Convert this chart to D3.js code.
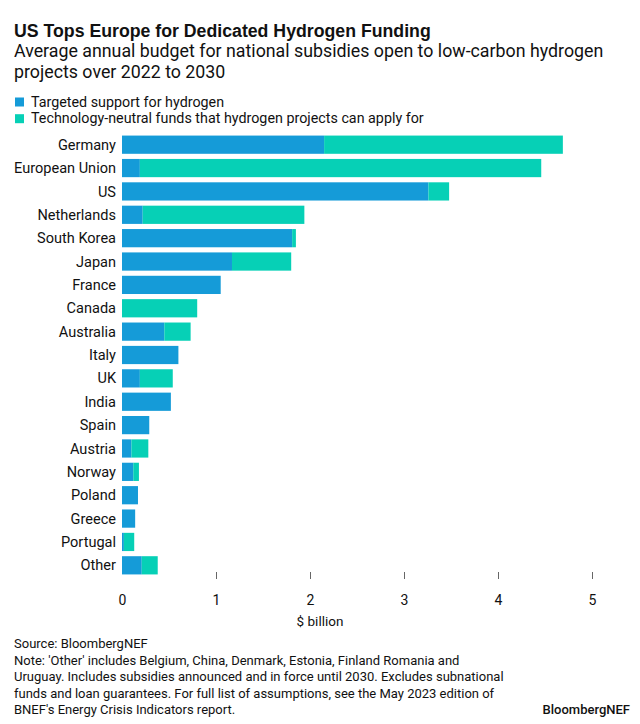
<!DOCTYPE html>
<html><head><meta charset="utf-8">
<script src="https://cdn.jsdelivr.net/npm/d3@7"></script>
<style>
html,body{margin:0;padding:0;background:#fff;}
svg{display:block;font-family:Roboto,"Noto Sans",sans-serif;}
</style></head>
<body>
<svg id="chart" width="640" height="724"></svg>
<script>
const categories = ["Germany","European Union","US","Netherlands","South Korea","Japan","France","Canada","Australia","Italy","UK","India","Spain","Austria","Norway","Poland","Greece","Portugal","Other"];
const targeted = [2.15,0.19,3.26,0.22,1.81,1.17,1.05,0,0.45,0.60,0.19,0.52,0.29,0.10,0.12,0.17,0.14,0.02,0.21];
const neutral  = [2.54,4.27,0.22,1.72,0.04,0.63,0,0.80,0.28,0,0.35,0,0,0.18,0.06,0,0,0.11,0.17];
const seriesNames = ["Targeted support for hydrogen","Technology-neutral funds that hydrogen projects can apply for"];
const seriesKeys = ["targeted","neutral"];
const colors = ["#159bd8","#06d0b6"];
const xTicks = [0,1,2,3,4,5];

const rows = categories.map((c,i)=>({cat:c,targeted:targeted[i],neutral:neutral[i]}));
const svg = d3.select("#chart");
const ink = "#111";

// shrink/grow font so a line spans a target width
function fit(sel, width){
  const w = sel.node().getComputedTextLength();
  const fs = parseFloat(sel.attr("font-size"));
  sel.attr("font-size", (fs*width/w).toFixed(2));
  return sel;
}

// Title & subtitle
const title = svg.append("text").attr("x",14).attr("y",36.7).attr("font-size",17).attr("font-weight",700)
  .attr("font-family","'Liberation Sans',Arial,sans-serif")
  .attr("fill",ink).text("US Tops Europe for Dedicated Hydrogen Funding");
fit(title, 417);
const sub = ["Average annual budget for national subsidies open to low-carbon hydrogen","projects over 2022 to 2030"];
const subEls = sub.map((s,i)=>svg.append("text").attr("x",14).attr("y",56.7+i*21.6).attr("font-size",16.5)
  .attr("fill",ink).text(s));
fit(subEls[0], 590);
subEls[1].attr("font-size", subEls[0].attr("font-size"));

// Legend
const legEls = seriesNames.map((s,i)=>{
  const g = svg.append("g").attr("transform",`translate(15,${97.5+i*16.7})`);
  g.append("rect").attr("width",9).attr("height",9).attr("fill",colors[i]);
  return g.append("text").attr("x",16).attr("y",9.2).attr("font-size",14).attr("fill",ink).text(s);
});
fit(legEls[1], 393);
legEls[0].attr("font-size", legEls[1].attr("font-size"));

// Scales
const x = d3.scaleLinear().domain([0,5]).range([122,592]);
const y = d3.scaleBand().domain(categories).range([133,577]).paddingInner(0.22).paddingOuter(0.11);

const stack = d3.stack().keys(seriesKeys)(rows);
svg.append("g").selectAll("g").data(stack).join("g").attr("fill",(d,i)=>colors[i])
  .selectAll("rect").data(d=>d).join("rect")
  .attr("x",d=>x(d[0])).attr("width",d=>Math.max(0,x(d[1])-x(d[0])))
  .attr("y",d=>y(d.data.cat)).attr("height",y.bandwidth());

// Category labels
const catLabels = svg.append("g").selectAll("text").data(categories).join("text")
  .attr("x",116).attr("y",d=>y(d)+y.bandwidth()/2).attr("dy","0.35em")
  .attr("text-anchor","end").attr("font-size",14).attr("fill",ink).text(d=>d);
const eu = catLabels.filter(d=>d==="European Union");
const euW = eu.node().getComputedTextLength();
catLabels.attr("font-size", (14*102/euW).toFixed(2));

// X axis
const axis = svg.append("g").attr("transform","translate(0,572)")
  .call(d3.axisBottom(x).tickValues(xTicks).tickSize(7).tickPadding(16).tickFormat(d3.format("d")));
axis.select(".domain").remove();
axis.selectAll(".tick line").attr("stroke","#666").attr("opacity",(d)=>d===0?0:1);
axis.selectAll(".tick text").attr("font-size",14).attr("fill",ink).attr("font-family","Roboto,sans-serif");

svg.append("text").attr("x",320).attr("y",626).attr("text-anchor","middle").attr("font-size",13.5)
  .attr("fill",ink).text("$ billion");

// Footer
const foot = ["Source: BloombergNEF",
 "Note: 'Other' includes Belgium, China, Denmark, Estonia, Finland Romania and",
 "Uruguay. Includes subsidies announced and in force until 2030. Excludes subnational",
 "funds and loan guarantees. For full list of assumptions, see the May 2023 edition of",
 "BNEF's Energy Crisis Indicators report."];
foot.forEach((s,i)=>svg.append("text").attr("x",14).attr("y",648+i*16.5).attr("font-size",13)
  .attr("fill",ink).text(s));
svg.append("text").attr("x",630).attr("y",714).attr("text-anchor","end").attr("font-size",13)
  .attr("font-weight",500).attr("fill",ink).text("BloombergNEF");
</script>
</body></html>
